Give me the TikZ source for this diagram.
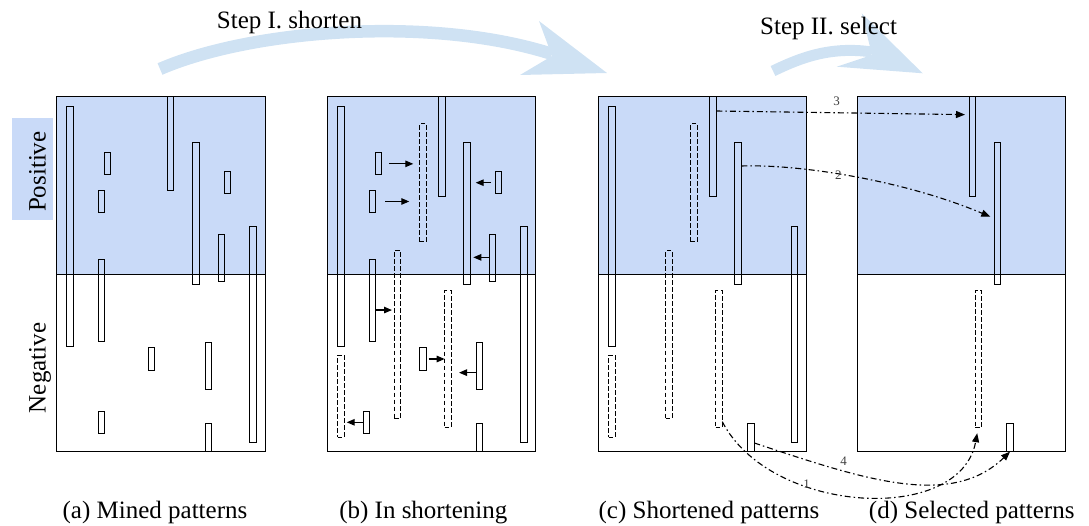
\documentclass[tikz,border=0pt]{standalone}
\usepackage{fontspec}
\setmainfont{Liberation Serif}
\usetikzlibrary{arrows.meta,calc}

\definecolor{posblue}{HTML}{C9DAF8}
\definecolor{stepblue}{HTML}{CFE2F3}

\tikzset{
  frame/.style={draw=black, line width=1.2pt},
  panel/.style={rectangle, inner sep=0pt, outer sep=0pt, minimum width=208.4pt, minimum height=355pt, anchor=north west},
  bar/.style={rectangle, draw=black, line width=1pt, inner sep=0pt, outer sep=0pt, minimum width=6.6pt},
  dbar/.style={bar, dash pattern=on 4.5pt off 2.5pt},
  move/.style={draw=black, line width=1.1pt, -{Triangle[length=8pt,width=6.5pt]}},
  link/.style={draw=black, line width=1.1pt, dash pattern=on 6pt off 3pt on 1.5pt off 3pt, -{Triangle[length=9pt,width=7pt]}},
  linklabel/.style={font=\fontsize{13}{15}\selectfont, text=black!75, inner sep=0pt},
  caption/.style={font=\fontsize{25}{30}\selectfont, anchor=base, inner sep=0pt},
  steplabel/.style={font=\fontsize{25}{30}\selectfont, anchor=base west, inner sep=0pt},
  sidelabel/.style={font=\fontsize{25}{30}\selectfont, rotate=90, anchor=base, inner sep=0pt},
  bigarrow/.style={draw=stepblue, line cap=butt},
}

% \pbar[style]{name}{left x}{top y}{bottom y}
\newcommand\pbar[5][bar]{%
  \node[#1, minimum height={(#5-#4)*1pt}, anchor=north west] (#2) at (#3,#4) {};}

\begin{document}
\begin{tikzpicture}[x=1pt,y=-1pt]
\useasboundingbox (0,0) rectangle (1089,526);

% ---- curved step arrows ----
\draw[bigarrow, line width=12.5pt] (160,69) .. controls (250,30) and (430,15) .. (552,54);
\fill[stepblue] (539,21) -- (607,73) -- (520,75) -- (552,56) -- cycle;
\draw[bigarrow, line width=11pt] (773,71) .. controls (800,58) and (830,46) .. (872,52);
\fill[stepblue] (861.7,13.3) -- (922.7,73.3) -- (836.7,66.7) -- (872,55) -- cycle;

\node[steplabel] (step1) at (216.7,28.3) {Step I. shorten};
\node[steplabel] (step2) at (760,35) {Step II. select};

% ---- side labels ----
\node[fill=posblue, inner sep=0pt, minimum width=40.4pt, minimum height=101.7pt] (posbox) at (32.5,169.2) {};
\node[sidelabel] (pos) at (45.5,171.7) {Positive};
\node[sidelabel] (neg) at (45.5,368) {Negative};

% ---- panels ----
\foreach \p/\x in {pa/56.7, pb/327.3, pc/598.3, pd/857.3}{
  \node[panel] (\p) at (\x,96.7) {};
  \fill[posblue] (\p.north west) rectangle (\p.east);
  \draw[frame] (\p.north west) rectangle (\p.south east) (\p.west) -- (\p.east);
}

% ---- (a) mined patterns ----
\pbar{a1}{66.7}{106.7}{346.7}
\pbar{a2}{104.3}{152.7}{175}
\pbar{a3}{98}{190.3}{212.7}
\pbar{a4}{98}{260}{341.7}
\pbar{a5}{167.3}{96.7}{190.7}
\pbar{a6}{192.7}{142.3}{285}
\pbar{a7}{224}{171.7}{193.7}
\pbar{a8}{218}{234.7}{282}
\pbar{a9}{249.7}{226.7}{442.3}
\pbar{a10}{148.3}{348}{370}
\pbar{a11}{205}{342.3}{389}
\pbar{a12}{98}{411.3}{433.3}
\pbar{a13}{205}{423.7}{451.7}

% ---- (b) in shortening ----
\pbar{b1}{337.7}{106.7}{346.7}
\pbar{b2}{375.3}{152.7}{175}
\pbar{b3}{369.3}{190.3}{212.7}
\pbar{b4}{369.3}{260}{341.7}
\pbar{b5}{438.7}{96.7}{196.7}
\pbar{b6}{463.7}{142.3}{285}
\pbar{b7}{495.3}{171.7}{193.7}
\pbar{b8}{489}{234.7}{282}
\pbar{b9}{520.7}{226.7}{442.3}
\pbar{b10}{419.7}{348}{370}
\pbar{b11}{476.3}{342.3}{389}
\pbar{b12}{363.3}{411.3}{433.3}
\pbar{b13}{476.3}{423.7}{451.7}
\pbar[dbar]{bD1}{419.7}{123.7}{242}
\pbar[dbar]{bD2}{394.3}{251}{418.3}
\pbar[dbar]{bD3}{444.7}{291}{427.3}
\pbar[dbar]{bD4}{337.7}{355.3}{437.3}

\coordinate (m4) at ([yshift=1pt]b8.west);
\coordinate (m5) at ([yshift=-9.2pt]b4.east);
\coordinate (m7) at ([yshift=-7pt]b11.west);
\draw[move, shorten <=7pt, shorten >=6.4pt] (b2.east) -- (b2.east -| bD1.west);
\draw[move, shorten <=9.3pt, shorten >=10.4pt] (b3.east) -- (b3.east -| bD1.west);
\draw[move, shorten <=4.3pt, shorten >=5.4pt] (b7.west) -- (b7.west -| b6.east);
\draw[move, shorten >=3pt] (m4) -- (m4 -| b6.east);
\draw[move, shorten >=2.3pt] (m5) -- (m5 -| bD2.west);
\draw[move, shorten <=2.4pt] (b10.east) -- (b10.east -| bD3.west);
\draw[move, shorten >=7.7pt] (m7) -- (m7 -| bD3.east);
\draw[move, shorten >=2.4pt] (b12.west) -- (b12.west -| bD4.east);

% ---- (c) shortened patterns ----
\pbar{c1}{608.7}{106.7}{346.7}
\pbar{c2}{709.7}{96.7}{196.7}
\pbar{c3}{734.7}{142.3}{285}
\pbar{c4}{791.3}{226.7}{442.3}
\pbar{c5}{747.7}{423.7}{451.7}
\pbar[dbar]{cD1}{690.7}{123.7}{242}
\pbar[dbar]{cD2}{665.7}{251}{418.3}
\pbar[dbar]{cD3}{715.7}{291}{427.3}
\pbar[dbar]{cD4}{608.7}{355.3}{437.3}

% ---- (d) selected patterns ----
\pbar{d1}{969}{96.7}{196.7}
\pbar{d2}{994}{142.3}{285}
\pbar{d3}{1006.7}{423.7}{451.7}
\pbar[dbar]{dD}{975}{291}{427.3}

% ---- selection links ----
\draw[link, shorten >=4pt] ([yshift=-14.3pt]c2.north east) -- ([yshift=-18pt]d1.north west);
\draw[link, shorten >=4pt] ([yshift=-23.7pt]c3.north east)
  .. controls +(58,-2) and +(-90,-38) .. ([yshift=-76pt]d2.north west);
\draw[link] ([yshift=-5.3pt]c5.east)
  .. controls +(106,35) and +(-60,58) .. (d3.south);
\draw[link, shorten >=6pt] ([yshift=5.6pt]cD3.south east)
  .. controls +(48,93) and +(-18,98) .. (dD.south);

\node[linklabel] (n3) at (836.7,101.7) {3};
\node[linklabel] (n2) at (838.3,175) {2};
\node[linklabel] (n4) at (843.7,461) {4};
\node[linklabel] (n1) at (806.7,484) {1};

% ---- captions ----
\node[caption] (capa) at (155,518) {(a) Mined patterns};
\node[caption] (capb) at (423.3,518) {(b) In shortening};
\node[caption] (capc) at (709,518) {(c) Shortened patterns};
\node[caption] (capd) at (971.7,518) {(d) Selected patterns};
\end{tikzpicture}
\end{document}
